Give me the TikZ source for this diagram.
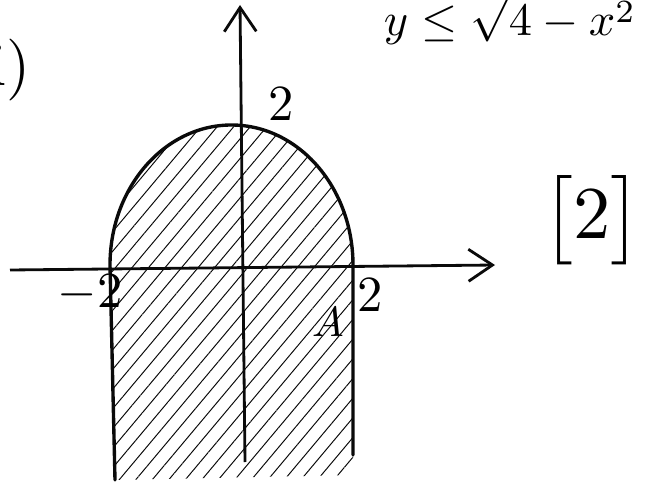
\documentclass[tikz,border=0pt]{standalone}
\usepackage{amsmath,amssymb}
\usepackage{xcolor}
\usepackage{tikz}
\usetikzlibrary{arrows.meta,positioning,patterns.meta}
\definecolor{ink}{RGB}{10,10,10}

\begin{document}
\begin{tikzpicture}[x=0.025cm,y=-0.025cm,>={Straight Barb[length=6mm,width=8mm]},
  axis/.style={ink,line width=2pt},
  bound/.style={ink,line width=2.4pt,line cap=round},
  hatch/.style={pattern={Lines[angle=50,distance=9pt,line width=0.7pt]},pattern color=ink},
  tick/.style={scale=3.6,inner sep=1pt}]
\useasboundingbox (0,0) rectangle (649,484);
\clip (0,0) rectangle (649,484);
% region y <= sqrt(4-x^2) above, strip below
\coordinate (L) at (110,265);
\coordinate (R) at (353,265);
\coordinate (T) at (231.5,125);
\coordinate (Lb) at (115,480);
\coordinate (Rb) at (353,455);
\fill[hatch] (Lb) -- (L) .. controls (110,187.7) and (164.4,125) .. (T)
  .. controls (298.6,125) and (353,187.7) .. (R) -- (353,475) -- (Lb) -- cycle;
\draw[bound] (Lb) -- (L) .. controls (110,187.7) and (164.4,125) .. (T)
  .. controls (298.6,125) and (353,187.7) .. (R) -- (Rb);
% axes
\coordinate (xs) at (10,270);
\coordinate (xe) at (495,265);
\coordinate (ys) at (245,462);
\coordinate (ye) at (240,5);
\draw[axis,->] (xs) -- (xe);
\draw[axis,->] (ys) -- (ye);
% labels
\node[tick] (ytwo) at (281,104) {$2$};
\node[tick] (xmtwo) at (90,293) {$-2$};
\node[tick] (xtwo) at (370,295) {$2$};
\node[scale=3] (area) at (328,322) {$A$};
\node[scale=5.3] (marks) at (592,220) {$\bigl[2\bigr]$};
\node[scale=3.3,anchor=base west,inner sep=0pt] (ineq) at (383,36) {$y\leq\sqrt{4-x^{2}}$};
\node[scale=4.4,anchor=east,inner sep=0pt] (part) at (32,70) {(ii)};
\end{tikzpicture}
\end{document}
